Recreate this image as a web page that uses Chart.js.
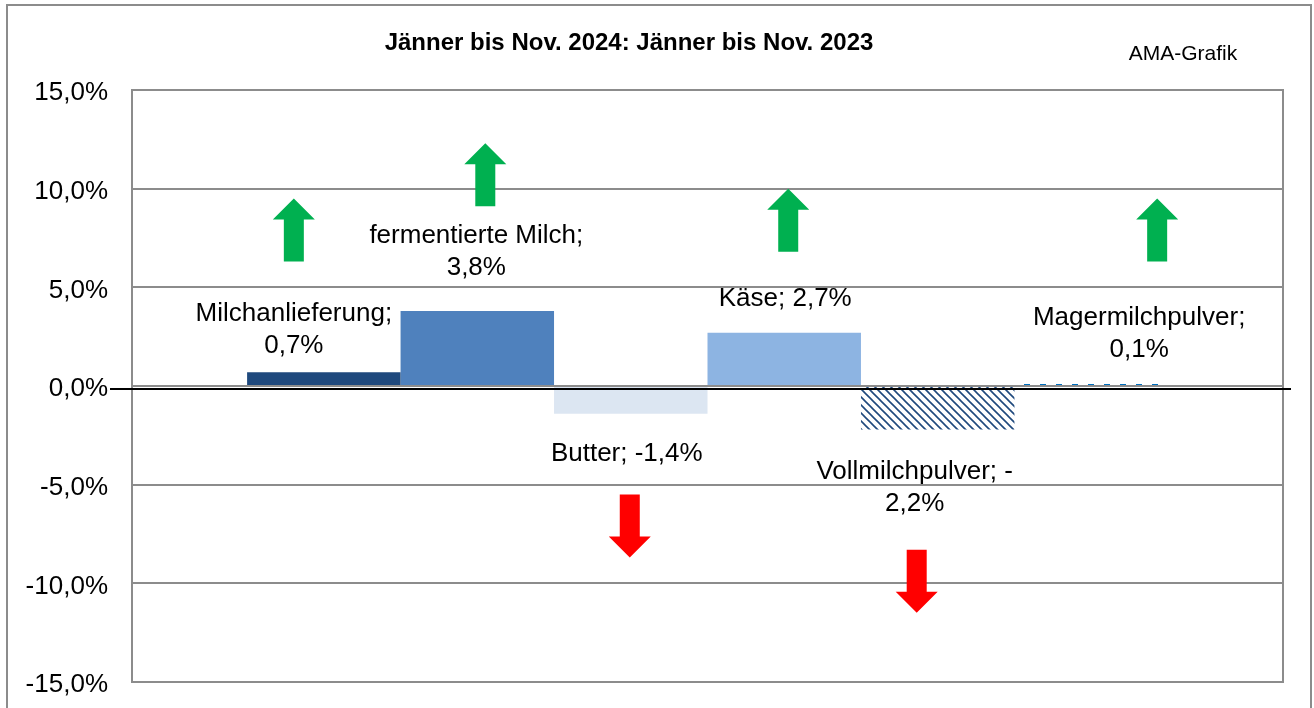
<!DOCTYPE html>
<html>
<head>
<meta charset="utf-8">
<script src="https://cdn.jsdelivr.net/npm/chart.js@4"></script>
<style>
  html, body { margin: 0; padding: 0; background: #fff; }
  #wrap { width: 1314px; height: 708px; position: relative; }
</style>
</head>
<body>
<div id="wrap"><canvas id="myChart" width="1314" height="708"></canvas></div>
<script>
// data
const products = ['Milchanlieferung', 'fermentierte Milch', 'Butter', 'Käse', 'Vollmilchpulver', 'Magermilchpulver'];
const changes = [0.7, 3.8, -1.4, 2.7, -2.2, 0.1];
const yTicks = [-15, -10, -5, 0, 5, 10, 15];
const title = 'Jänner bis Nov. 2024: Jänner bis Nov. 2023';

// label layout: dx from bar centre, dy from bar end, line break mode
const labelPos = [
  { dx: -30, dy: -58, wrap: 1 },
  { dx: -1, dy: -75, wrap: 1 },
  { dx: -4, dy: 40, wrap: 0 },
  { dx: 1, dy: -34, wrap: 0 },
  { dx: -23, dy: 42, wrap: 2 },
  { dx: 48, dy: -66, wrap: 1 }
];
// arrows: dx from bar centre, top in % units
const arrows = [
  { dx: -30, top: 9.5, up: true },
  { dx: 8, top: 12.3, up: true },
  { dx: -1, top: -5.5, up: false },
  { dx: 4, top: 10.0, up: true },
  { dx: -21, top: -8.3, up: false },
  { dx: 66, top: 9.5, up: true }
];

function fmt(v) {
  return v.toFixed(1).replace('.', ',') + '%';
}

function hatch() {
  const c = document.createElement('canvas');
  c.width = 8; c.height = 8;
  const g = c.getContext('2d');
  g.fillStyle = '#fff'; g.fillRect(0, 0, 8, 8);
  g.strokeStyle = '#1F497D'; g.lineWidth = 1.6;
  g.beginPath();
  g.moveTo(-2, -2); g.lineTo(10, 10);
  g.moveTo(-10, -2); g.lineTo(2, 10);
  g.moveTo(6, -2); g.lineTo(18, 10);
  g.stroke();
  return g.createPattern(c, 'repeat');
}
function dashes() {
  const c = document.createElement('canvas');
  c.width = 16; c.height = 2;
  const g = c.getContext('2d');
  g.fillStyle = '#fff'; g.fillRect(0, 0, 16, 2);
  g.fillStyle = '#0070C0'; g.fillRect(0, 0, 6, 2);
  return g.createPattern(c, 'repeat');
}

const colors = ['#1F497D', '#4F81BD', '#DCE6F2', '#8DB4E2', hatch(), dashes()];

const FONT = '"Liberation Sans", Arial, sans-serif';

const decor = {
  id: 'decor',
  beforeDraw(chart) {
    const ctx = chart.ctx;
    ctx.save();
    ctx.fillStyle = '#fff';
    ctx.fillRect(0, 0, chart.width, chart.height);
    ctx.strokeStyle = '#8c8c8c';
    ctx.lineWidth = 2;
    ctx.strokeRect(7, 5, 1304, 720);
    ctx.restore();
  },
  afterDatasetsDraw(chart) {
    const ctx = chart.ctx;
    const a = chart.chartArea;
    const y = chart.scales.y;
    ctx.save();
    // plot frame
    ctx.strokeStyle = '#8c8c8c';
    ctx.lineWidth = 2;
    ctx.strokeRect(a.left, a.top, a.right - a.left, a.bottom - a.top);
    // zero axis line
    const y0 = y.getPixelForValue(0);
    ctx.strokeStyle = '#000';
    ctx.lineWidth = 2;
    ctx.beginPath();
    ctx.moveTo(a.left - 22, y0 + 3);
    ctx.lineTo(a.right + 8, y0 + 3);
    ctx.stroke();

    // title
    ctx.fillStyle = '#000';
    ctx.textAlign = 'center';
    ctx.textBaseline = 'middle';
    ctx.font = 'bold 24px ' + FONT;
    ctx.fillText(title, 629, 43);
    ctx.font = '21px ' + FONT;
    ctx.fillText('AMA-Grafik', 1183, 54);

    // labels + arrows
    ctx.font = '26px ' + FONT;
    changes.forEach((v, i) => {
      const bar = chart.getDatasetMeta(i).data[0];
      const p = labelPos[i];
      const end = v >= 0 ? Math.min(bar.y, bar.base) : Math.max(bar.y, bar.base);
      let lines;
      if (p.wrap === 1) lines = [products[i] + ';', fmt(v)];
      else if (p.wrap === 2) lines = [products[i] + '; -', fmt(Math.abs(v))];
      else lines = [products[i] + '; ' + fmt(v)];
      lines.forEach((t, k) => ctx.fillText(t, bar.x + p.dx, end + p.dy + k * 32));

      const ar = arrows[i];
      const cx = bar.x + ar.dx;
      const top = y.getPixelForValue(ar.top);
      const len = 63, head = 21, hw = 21, sw = 10;
      ctx.fillStyle = ar.up ? '#00B050' : '#FF0000';
      ctx.beginPath();
      if (ar.up) {
        ctx.moveTo(cx, top);
        ctx.lineTo(cx + hw, top + head);
        ctx.lineTo(cx + sw, top + head);
        ctx.lineTo(cx + sw, top + len);
        ctx.lineTo(cx - sw, top + len);
        ctx.lineTo(cx - sw, top + head);
        ctx.lineTo(cx - hw, top + head);
      } else {
        ctx.moveTo(cx - sw, top);
        ctx.lineTo(cx + sw, top);
        ctx.lineTo(cx + sw, top + len - head);
        ctx.lineTo(cx + hw, top + len - head);
        ctx.lineTo(cx, top + len);
        ctx.lineTo(cx - hw, top + len - head);
        ctx.lineTo(cx - sw, top + len - head);
      }
      ctx.closePath();
      ctx.fill();
      ctx.fillStyle = '#000';
    });
    ctx.restore();
  }
};

var ctx = document.getElementById('myChart').getContext('2d');
var chart = new Chart(ctx, {
  type: 'bar',
  data: {
    labels: [''],
    datasets: products.map((p, i) => ({
      label: p,
      data: [changes[i]],
      backgroundColor: colors[i],
      borderWidth: 0,
      categoryPercentage: 0.8,
      barPercentage: 1.0
    }))
  },
  options: {
    responsive: false,
    animation: false,
    layout: { padding: { left: 0, top: 90, right: 31, bottom: 26 } },
    plugins: { legend: { display: false }, tooltip: { enabled: false } },
    scales: {
      x: { display: false },
      y: {
        min: -15, max: 15,
        afterFit(s) { s.width = 132; s.paddingTop = 0; s.paddingBottom = 0; },
        afterBuildTicks(s) { s.ticks = yTicks.map(v => ({ value: v })); },
        grid: { color: '#8c8c8c', lineWidth: 2, drawTicks: false },
        border: { display: false },
        ticks: {
          padding: 24,
          labelOffset: 3,
          color: '#000',
          font: { family: FONT, size: 26 },
          callback: v => fmt(v)
        }
      }
    }
  },
  plugins: [decor]
});
</script>
</body>
</html>
